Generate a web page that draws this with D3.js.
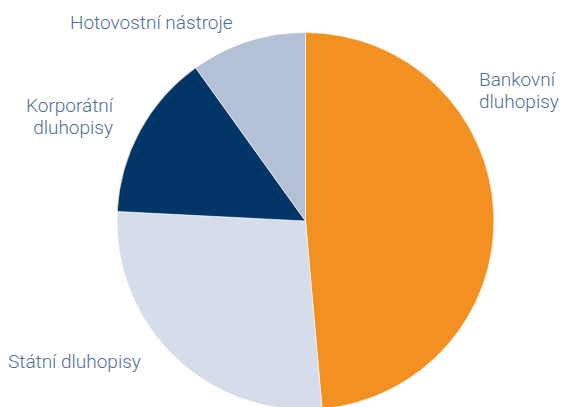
<!DOCTYPE html>
<html>
<head>
<meta charset="utf-8">
<script src="https://cdn.jsdelivr.net/npm/d3@7"></script>
<style>
  body { margin: 0; background: #fff; }
  svg text { font-family: Roboto, "Open Sans", sans-serif; font-weight: 300; }
</style>
</head>
<body>
<div id="chart"></div>
<script>
// Shares of the portfolio (%)
const categories = ['Bankovní dluhopisy', 'Státní dluhopisy', 'Korporátní dluhopisy', 'Hotovostní nástroje'];
const shares = [48.6, 27.2, 14.3, 9.9];
const colors = ['#F39022', '#D6DDEA', '#023666', '#B3C0D6'];

// label lines and anchor for each slice
const labelLines = [['Bankovní', 'dluhopisy'], ['Státní dluhopisy'], ['Korporátní', 'dluhopisy'], ['Hotovostní nástroje']];

const width = 565, height = 407;
const cx = 305.5, cy = 221, radius = 188.5;

const svg = d3.select('#chart')
    .append('svg')
    .attr('width', width)
    .attr('height', height)
    .attr('viewBox', [0, 0, width, height]);

const data = categories.map((c, i) => ({ name: c, value: shares[i], color: colors[i], lines: labelLines[i] }));

const pie = d3.pie()
    .sort(null)
    .value(d => d.value);

const arc = d3.arc()
    .innerRadius(0)
    .outerRadius(radius);

const arcs = pie(data);

const g = svg.append('g')
    .attr('transform', `translate(${cx},${cy})`);

g.selectAll('path')
    .data(arcs)
    .join('path')
    .attr('d', arc)
    .attr('fill', d => d.data.color)
    .attr('stroke', '#fff')
    .attr('stroke-width', 0.6);

// labels placed outside the pie
const labelPos = [
    { x: 479, y: 86, anchor: 'start' },
    { x: 8, y: 368, anchor: 'start' },
    { x: 113, y: 112, anchor: 'end' },
    { x: 70, y: 29, anchor: 'start' }
];

arcs.forEach((a, i) => {
    const p = labelPos[i];
    const t = svg.append('text')
        .attr('x', p.x)
        .attr('y', p.y)
        .attr('text-anchor', p.anchor)
        .style('font-size', '19px')
        .style('fill', '#4E6F96');
    a.data.lines.forEach((line, j) => {
        t.append('tspan')
            .attr('x', p.x)
            .attr('dy', j === 0 ? 0 : 21.5)
            .text(line);
    });
});
</script>
</body>
</html>
